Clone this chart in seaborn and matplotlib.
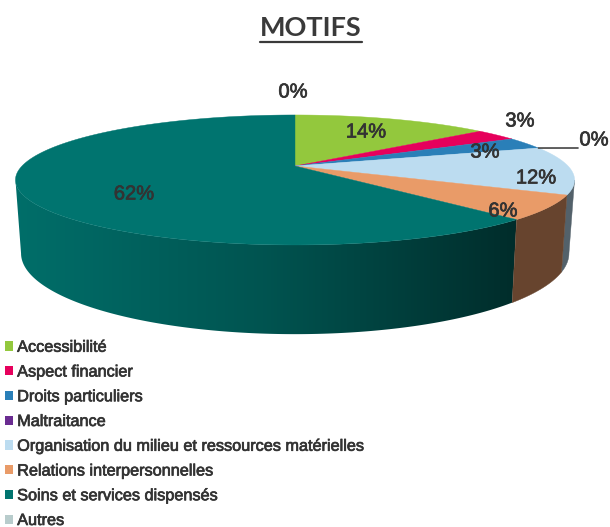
import numpy as np
import matplotlib
matplotlib.use("Agg")
import matplotlib.pyplot as plt
import matplotlib.patheffects as pe
from matplotlib.colors import to_rgb, LinearSegmentedColormap
from matplotlib.patches import Patch, Polygon
import seaborn as sns

categories = ["Accessibilité", "Aspect financier", "Droits particuliers", "Maltraitance",
              "Organisation du milieu et ressources matérielles", "Relations interpersonnelles",
              "Soins et services dispensés", "Autres"]
values = [14, 3, 3, 0, 12, 6, 62, 0]
colors = ["#93c83d", "#e6005c", "#2a7fb8", "#6a2c91", "#bcdcf0", "#e99b68", "#00746f", "#b8cccc"]

# label spots, same order as values (pixels)
label_pos = [(366, 132), (520, 121), (485, 152), (594, 140), (536, 178), (503, 211), (134, 194), (293, 92)]

# pie geometry in pixels, with a perspective term k
CX, CY, A, B, K, DEPTH, TAPER = 295, 166, 273, 62, 0.215, 70, 0.98


def project(theta):
    u, v = np.sin(theta), np.cos(theta)
    w = 1 + K * v
    return CX + A * u / w, CY - B * v / w, DEPTH / w


sns.set_theme(style="white")
plt.rcParams["font.family"] = ["Liberation Sans", "DejaVu Sans"]

fig = plt.figure(figsize=(6.1, 5.27), dpi=100)
ax = fig.add_axes([0, 0, 1, 1])
ax.axis("off")

fracs = np.array(values) / sum(values)
edges = np.concatenate([[0], np.cumsum(fracs)]) * 2 * np.pi

# only the part of the wall between the two silhouette points is visible
vis_start = np.arccos(-K)
vis_end = 2 * np.pi - vis_start

# side wall first, the top face covers what is behind it
for i, col in enumerate(colors):
    t0, t1 = max(edges[i], vis_start), min(edges[i + 1], vis_end)
    if values[i] == 0 or t1 <= t0:
        continue
    ts = np.linspace(t0, t1, 200)
    x, y, d = project(ts)
    xb = CX + (x - CX) * TAPER
    pts = np.r_[np.c_[x, y], np.c_[xb, y + d][::-1]]
    base = np.array(to_rgb(col))
    if i == 6:
        # teal wall gets darker going from the left to the right
        cmap = LinearSegmentedColormap.from_list("wall", [base * 0.95, base * 0.72, base * 0.38])
        img = ax.imshow(np.linspace(0, 1, 256)[None, :], cmap=cmap, aspect="auto",
                        extent=(15, 520, 340, 170), zorder=1)
        img.set_clip_path(Polygon(pts, transform=ax.transData))
    else:
        ax.add_patch(Polygon(pts, facecolor=base * 0.44, edgecolor=base * 0.44, lw=0.3, zorder=1.5))

ax.set_xlim(0, 610)
ax.set_ylim(527, 0)

for i, col in enumerate(colors):
    if values[i] == 0:
        continue
    ts = np.linspace(edges[i], edges[i + 1], 200)
    x, y, _ = project(ts)
    ax.fill(np.r_[CX, x], np.r_[CY, y], color=col, lw=0.3, zorder=2)

# leader line for Maltraitance
lx, ly, _ = project(edges[3])
ax.plot([lx, 578], [ly, 148], color="#444444", lw=1.2, zorder=3)

soft = [pe.withStroke(linewidth=0.5, foreground="#333333")]
for val, (px, py) in zip(values, label_pos):
    ax.text(px, py, f"{val}%", ha="center", va="center", fontsize=14.5, color="#333333",
            path_effects=soft, zorder=4)

title = ax.text(311, 28, "MOTIFS", ha="center", va="center", fontsize=19.5, fontweight="bold",
                color="#3a3a3a", family="Lato")
fig.canvas.draw()
bb = title.get_window_extent()
ax.plot([bb.x0, bb.x1], [41.5, 41.5], color="#3a3a3a", lw=1.6)

handles = [Patch(facecolor=c, edgecolor="none") for c in colors]
leg = ax.legend(handles, categories, loc="lower left", bbox_to_anchor=(5, 528), bbox_transform=ax.transData,
                frameon=False, fontsize=11.7, labelspacing=0.6, handlelength=0.5, handleheight=0.5,
                handletextpad=0.25, borderpad=0, borderaxespad=0, labelcolor="#333333")
for t in leg.get_texts():
    t.set_path_effects([pe.withStroke(linewidth=0.5, foreground="#333333")])

fig.savefig("out.png", dpi=100)
